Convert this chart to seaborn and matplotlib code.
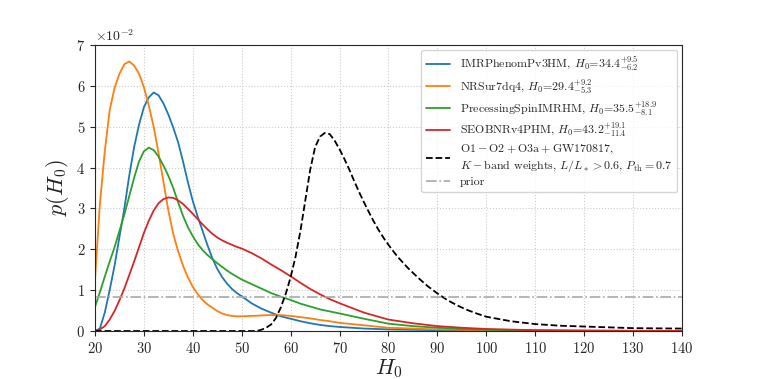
import matplotlib
matplotlib.use("Agg")
import matplotlib.pyplot as plt
import seaborn as sns
import numpy as np

# H0 grid for the single-event posteriors
h0_grid = [20, 21, 22, 23, 24, 25, 26, 27, 28, 29, 30, 31, 32, 33, 34, 35, 36, 37, 38, 39,
           40, 41, 42, 43, 44, 45, 46, 47, 48, 49, 50, 52, 54, 56, 58, 60, 62, 64, 66, 68,
           70, 75, 80, 85, 90, 95, 100, 110, 120, 130, 140]

p_imr = [0.0, 0.0006, 0.0045, 0.0100, 0.0160, 0.0230, 0.0300, 0.0380, 0.0450, 0.0505,
         0.0548, 0.0572, 0.0584, 0.0577, 0.0557, 0.0530, 0.0498, 0.0462, 0.0415, 0.0364,
         0.0318, 0.0280, 0.0245, 0.0210, 0.0178, 0.0152, 0.0132, 0.0116, 0.0103, 0.0093,
         0.0085, 0.0068, 0.0055, 0.0045, 0.0036, 0.0030, 0.0024, 0.0019, 0.0015, 0.0012,
         0.0010, 0.0006, 0.0004, 0.0003, 0.0002, 0.00015, 0.0001, 0.00005, 0.00002, 0.00001, 0.0]

p_nrsur = [0.0125, 0.0310, 0.0440, 0.0540, 0.0595, 0.0630, 0.0653, 0.0660, 0.0650, 0.0630,
           0.0597, 0.0552, 0.0500, 0.0435, 0.0365, 0.0295, 0.0238, 0.0195, 0.0160, 0.0131,
           0.0108, 0.0090, 0.0076, 0.0065, 0.0057, 0.0049, 0.0043, 0.0039, 0.0037, 0.0036,
           0.0036, 0.0037, 0.0038, 0.0039, 0.0039, 0.0037, 0.0034, 0.0031, 0.0027, 0.0024,
           0.0020, 0.0014, 0.0008, 0.0006, 0.0004, 0.0003, 0.0002, 0.0001, 0.00005, 0.00002, 0.00001]

p_prec = [0.0059, 0.0095, 0.0133, 0.0170, 0.0205, 0.0245, 0.0285, 0.0330, 0.0375, 0.0415,
          0.0440, 0.0449, 0.0443, 0.0427, 0.0405, 0.0380, 0.0350, 0.0315, 0.0282, 0.0254,
          0.0232, 0.0213, 0.0198, 0.0186, 0.0176, 0.0166, 0.0157, 0.0148, 0.0140, 0.0133,
          0.0126, 0.0115, 0.0104, 0.0093, 0.0084, 0.0076, 0.0067, 0.0060, 0.0053, 0.0048,
          0.0043, 0.0030, 0.0018, 0.0012, 0.0008, 0.0005, 0.0003, 0.00015, 0.00008, 0.00004, 0.00002]

p_seob = [0.0, 0.0004, 0.0012, 0.0028, 0.0049, 0.0075, 0.0104, 0.0137, 0.0170, 0.0205,
          0.0240, 0.0270, 0.0295, 0.0313, 0.0323, 0.0327, 0.0326, 0.0320, 0.0311, 0.0299,
          0.0287, 0.0274, 0.0261, 0.0249, 0.0238, 0.0229, 0.0222, 0.0216, 0.0211, 0.0206,
          0.0202, 0.0191, 0.0178, 0.0163, 0.0149, 0.0134, 0.0118, 0.0103, 0.0090, 0.0078,
          0.0068, 0.0045, 0.0028, 0.0019, 0.0012, 0.0008, 0.0005, 0.0002, 0.0001, 0.00005, 0.00002]

# combined O1-O2+O3a+GW170817 posterior
h0_comb = [20, 50, 53, 54, 55, 56, 57, 58, 59, 60, 61, 62, 63, 64, 65, 66, 67, 68, 69, 70,
           71, 72, 73, 74, 75, 76, 77, 78, 79, 80, 81, 82, 84, 86, 88, 90, 92, 94, 96, 98, 100,
           105, 110, 115, 120, 130, 140]
p_comb = [0.0, 0.0, 0.0, 0.0003, 0.0008, 0.0016, 0.0032, 0.0058, 0.0091, 0.0132,
          0.0182, 0.0245, 0.0320, 0.0395, 0.0450, 0.0476, 0.0485, 0.0482, 0.0466, 0.0445,
          0.0421, 0.0395, 0.0367, 0.0340, 0.0315, 0.0291, 0.0268, 0.0247, 0.0228, 0.0211,
          0.0195, 0.0180, 0.0154, 0.0131, 0.0110, 0.0092, 0.0076, 0.0063, 0.0052, 0.0043, 0.0035,
          0.0024, 0.0017, 0.0013, 0.0011, 0.0007, 0.0006]

h0_min, h0_max = 20, 140
prior_density = 1.0 / (h0_max - h0_min)

labels = [
    r'IMRPhenomPv3HM, $H_0$=$34.4^{+9.5}_{-6.2}$',
    r'NRSur7dq4, $H_0$=$29.4^{+9.2}_{-5.3}$',
    r'PrecessingSpinIMRHM, $H_0$=$35.5^{+18.9}_{-8.1}$',
    r'SEOBNRv4PHM, $H_0$=$43.2^{+19.1}_{-11.4}$',
]
comb_label = ('$\\mathrm{O1-O2+O3a+GW170817}$,\n'
              '$K-$band weights, $L/L_* > 0.6$, $P_{\\rm th}=0.7$')

sns.set_style('ticks')
plt.rcParams['font.family'] = ['cmr10', 'DejaVu Serif']
plt.rcParams['mathtext.fontset'] = 'cm'
plt.rcParams['axes.formatter.use_mathtext'] = True
plt.rcParams['axes.unicode_minus'] = True

fig, ax = plt.subplots(figsize=(7.58, 3.79), dpi=100)
fig.subplots_adjust(left=0.1253, right=0.8997, bottom=0.1266, top=0.881)

colors = ['#1f77b4', '#ff7f0e', '#2ca02c', '#d62728']
for ys, lab, c in zip([p_imr, p_nrsur, p_prec, p_seob], labels, colors):
    sns.lineplot(x=h0_grid, y=ys, ax=ax, color=c, lw=1.3, label=lab)

sns.lineplot(x=h0_comb, y=p_comb, ax=ax, color='k', lw=1.3, ls='--', label=comb_label)
ax.axhline(prior_density, color='darkgray', lw=1.2, ls='-.', label='prior')

ax.set_xlim(h0_min, h0_max)
ax.set_ylim(0, 0.07)
ax.set_xticks(np.arange(20, 141, 10))
ax.ticklabel_format(axis='y', style='sci', scilimits=(0, 0))
ax.grid(True, ls=':', color='#cccccc', lw=0.8)
ax.tick_params(labelsize=10.5)
ax.yaxis.get_offset_text().set_fontsize(10)

ax.set_xlabel(r'$H_0$', fontsize=16, labelpad=1)
ax.set_ylabel(r'$p(H_0)$', fontsize=16)

ax.legend(loc='upper right', fontsize=8.6, framealpha=0.8,
          labelspacing=0.25, borderaxespad=0.4)

fig.savefig('out.png', dpi=100)
